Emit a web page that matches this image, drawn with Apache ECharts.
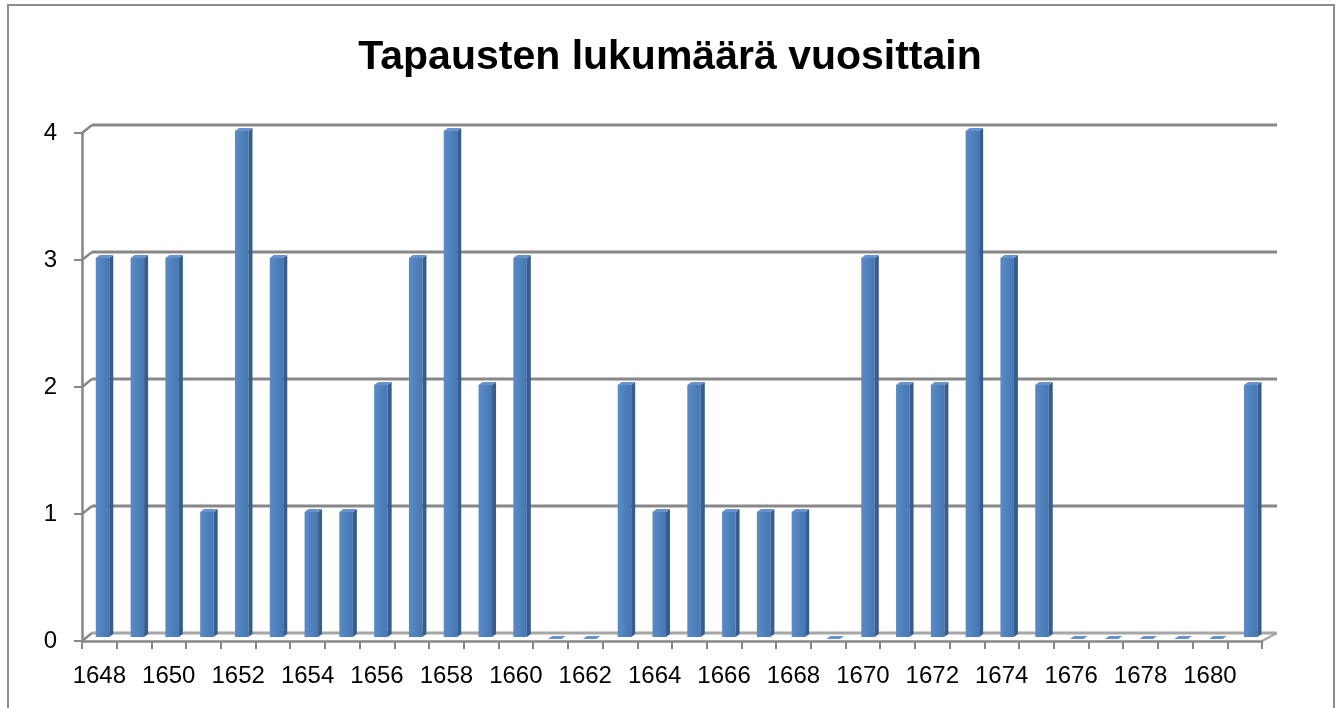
<!DOCTYPE html>
<html>
<head>
<meta charset="utf-8">
<script src="https://cdn.jsdelivr.net/npm/echarts@6/dist/echarts.min.js"></script>
<style>
html,body{margin:0;padding:0;background:#fff;}
#chart{width:1340px;height:708px;}
</style>
</head>
<body>
<div id="chart"></div>
<script>
const titleText = 'Tapausten lukumäärä vuosittain';
const years = ['1648','1649','1650','1651','1652','1653','1654','1655','1656','1657','1658','1659','1660','1661','1662','1663','1664','1665','1666','1667','1668','1669','1670','1671','1672','1673','1674','1675','1676','1677','1678','1679','1680','1681'];
const cases = [3,3,3,1,4,3,1,1,2,3,4,2,3,0,0,2,1,2,1,1,1,0,3,2,2,4,3,2,0,0,0,0,0,2];
const yTicks = [0,1,2,3,4];

const GRID_COL = '#878787';
const FONT = 'Liberation Sans';

const chart = echarts.init(document.getElementById('chart'), null, {renderer:'canvas'});

function wallItem(params, api) {
  const v = api.value(0);
  const cs = params.coordSys;
  const y = api.coord([0, v])[1];
  const left = cs.x, right = cs.x + cs.width;
  const children = [];
  children.push({type:'line', shape:{x1:left-5, y1:y+4, x2:left+5, y2:y-4},
    style:{stroke:GRID_COL, lineWidth:2.5}});
  children.push({type:'line', shape:{x1:left+5, y1:y-4, x2:right+7, y2:y-4},
    style:{stroke: v === 0 ? '#a6a6a6' : GRID_COL, lineWidth:2.8}});
  if (v === 0) {
    children.push({type:'line', shape:{x1:right-8, y1:y+4, x2:right+7, y2:y-4},
      style:{stroke:'#a6a6a6', lineWidth:2.5}});
  }
  return {type:'group', children};
}

function barItem(params, api) {
  const idx = api.value(0);
  const val = api.value(1);
  const top = api.coord([idx, val]);
  const base = api.coord([idx, 0]);
  const cx = top[0];
  const w = 13.5, d = 4, dy = 3;
  const x0 = cx - 8.6;
  const yT = top[1] + 2;
  const yB = base[1];
  const children = [];
  if (yB - yT > 0.5) {
    children.push({type:'rect', shape:{x:x0, y:yT, width:w, height:yB-yT},
      style:{fill:{type:'linear', x:0, y:0, x2:1, y2:0, colorStops:[
        {offset:0, color:'#5a8bc8'},{offset:0.5, color:'#4f81bd'},{offset:1, color:'#4877b0'}]}}});
    children.push({type:'polygon', shape:{points:[[x0+w, yT],[x0+w+d, yT-dy],[x0+w+d, yB-dy],[x0+w, yB]]},
      style:{fill:'#385d8a'}});
  }
  children.push({type:'polygon', shape:{points:[[x0, yT],[x0+w, yT],[x0+w+d, yT-dy],[x0+d, yT-dy]]},
    style:{fill:'#6792cb'}});
  return {type:'group', children};
}

const option = {
  animation:false,
  backgroundColor:'#ffffff',
  title:{
    text:titleText, left:'center', top:32,
    textStyle:{fontFamily:FONT, fontSize:41, fontWeight:'bold', color:'#000'}
  },
  graphic:[{
    type:'rect', shape:{x:8, y:5, width:1326, height:760},
    style:{fill:null, stroke:'#8c8c8c', lineWidth:2}, z:-10
  }],
  grid:[
    {left:82, right:78, top:133, bottom:67},
    {left:87, right:70, top:129, bottom:71}
  ],
  xAxis:[
    {type:'category', gridIndex:0, data:years, boundaryGap:true,
      axisLine:{show:true, lineStyle:{color:GRID_COL, width:2.5}},
      axisTick:{show:true, interval:0, length:8, lineStyle:{color:GRID_COL, width:2}},
      axisLabel:{interval:1, fontFamily:FONT, fontSize:24, color:'#000', margin:23},
      splitLine:{show:false}, z:5},
    {type:'category', gridIndex:1, data:years, boundaryGap:true, show:false}
  ],
  yAxis:[
    {type:'value', gridIndex:0, min:0, max:4, interval:1,
      axisLine:{show:true, lineStyle:{color:GRID_COL, width:2.5}},
      axisTick:{show:true, length:8, lineStyle:{color:GRID_COL, width:2}},
      axisLabel:{fontFamily:FONT, fontSize:24, color:'#000', margin:25,
        formatter: v => yTicks.includes(v) ? String(v) : ''},
      splitLine:{show:false}, z:5},
    {type:'value', gridIndex:1, min:0, max:4, interval:1, show:false, splitLine:{show:false}}
  ],
  series:[
    {type:'custom', xAxisIndex:1, yAxisIndex:1, data:yTicks.map(v=>[v]),
      encode:{y:0}, renderItem:wallItem, z:1, silent:true},
    {type:'custom', xAxisIndex:1, yAxisIndex:1,
      data:cases.map((v,i)=>[i, v]), encode:{x:0, y:1},
      renderItem:barItem, z:3}
  ]
};
chart.setOption(option);
</script>
</body>
</html>
